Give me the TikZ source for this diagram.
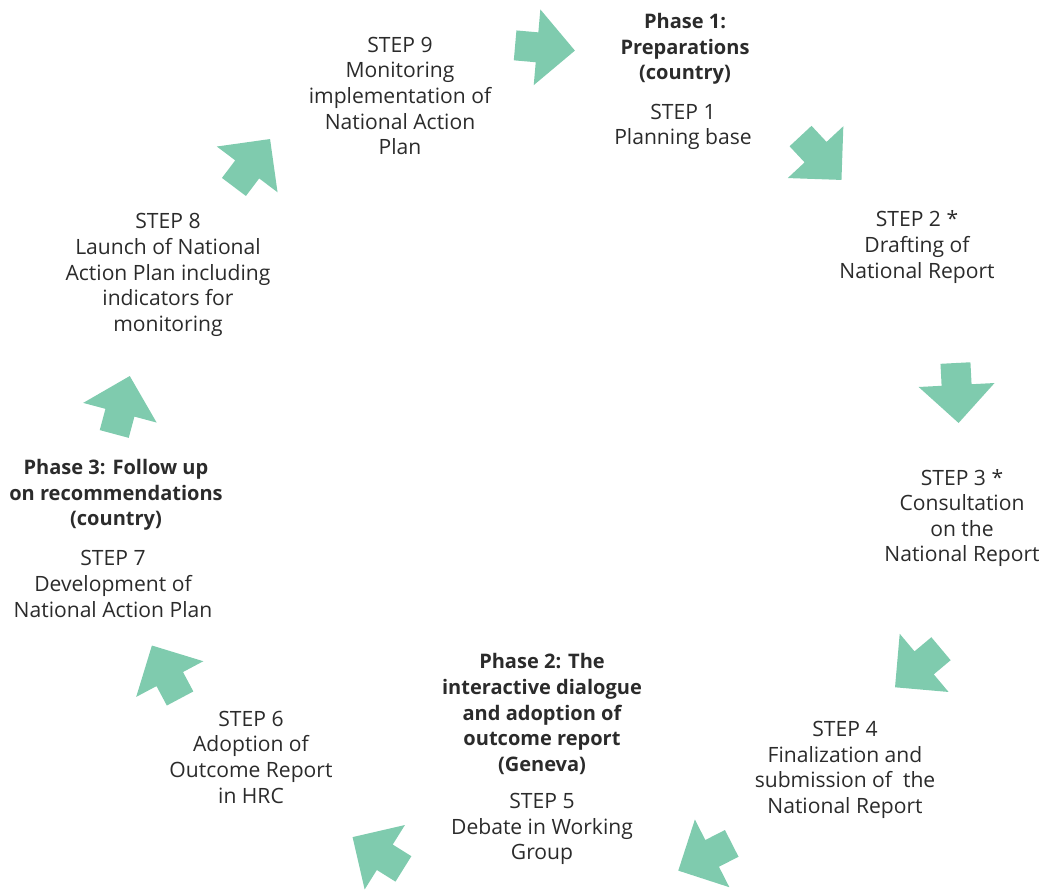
\documentclass[tikz,border=0pt]{standalone}
\usepackage{fontspec}
\setmainfont{Open Sans}
\definecolor{arrowgreen}{HTML}{7FCBAE}
\definecolor{textgray}{HTML}{2B2B2B}

\begin{document}
\begin{tikzpicture}[x=0.02cm,y=-0.02cm,
    steptext/.style={align=center,text=textgray,inner sep=0pt,font=\fontsize{12}{14.6}\selectfont},
    phasetext/.style={steptext,font=\fontsize{11.4}{14.6}\selectfont\bfseries}]
            \useasboundingbox (0,0) rectangle (1050,891);
            \foreach \x/\y/\a in {545/48/-5,821/158/-47,957/393/-87,918/668/220,705/857/207,378/853/148,166/672/118,122/405/75,252/163/53}{
                \fill[arrowgreen,shift={(\x,\y)},rotate=\a] (30,0)--(-8,38)--(-8,15)--(-30,15)--(-30,-15)--(-8,-15)--(-8,-38)--cycle;
            }
            \node[phasetext] (phase1) at (685,49) {Phase 1:\\Preparations\\(country)};
            \node[steptext] (step1) at (683,127) {STEP 1\\Planning base};
            \node[steptext] (step2) at (917,247) {STEP 2 *\\Drafting of\\National Report};
            \node[steptext] (step3) at (962,518) {STEP 3 *\\Consultation\\on the\\National Report};
            \node[steptext] (step4) at (845,770) {STEP 4\\Finalization and\\submission of\ \ the\\National Report};
            \node[phasetext] (phase2) at (542,714) {Phase 2: The\\interactive dialogue\\and adoption of\\outcome report\\(Geneva)};
            \node[steptext] (step5) at (542,829) {STEP 5\\Debate in Working\\Group};
            \node[steptext] (step6) at (251,757) {STEP 6\\Adoption of\\Outcome Report\\in HRC};
            \node[phasetext] (phase3) at (116,495) {Phase 3: Follow up\\on recommendations\\(country)};
            \node[steptext] (step7) at (113,584) {STEP 7\\Development of\\National Action Plan};
            \node[steptext] (step8) at (168,275) {STEP 8\\Launch of National\\Action Plan including\\indicators for\\monitoring};
            \node[steptext] (step9) at (400,96) {STEP 9\\Monitoring\\implementation of\\National Action\\Plan};
        \end{tikzpicture}
\end{document}
